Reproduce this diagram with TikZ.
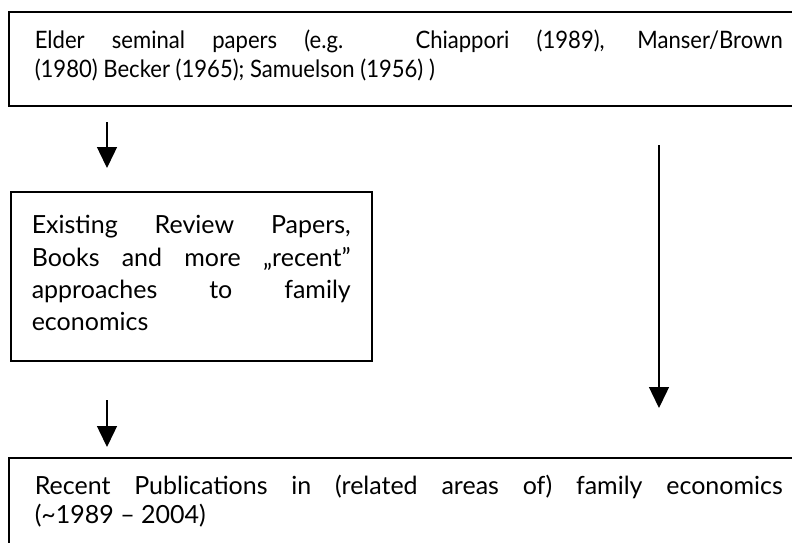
\documentclass[tikz,border=0pt]{standalone}
\usepackage{fontspec}
\setmainfont{Lato}
\newfontfamily\narrowlato[FakeStretch=0.92]{Lato}
\usetikzlibrary{arrows.meta}
\begin{document}
\begin{tikzpicture}[x=1pt,y=-1pt,
  box/.style={draw,line width=1.5pt,rectangle,anchor=north west,align=justify,
    inner ysep=0pt},
  arr/.style={line width=1.4pt,-{Triangle[width=20pt,length=21pt]}}]
\useasboundingbox (0,0) rectangle (792,542);
\clip (0,0) rectangle (792,542);
\node[box,text width=748pt,inner xsep=26pt,text height=37pt,text depth=57pt,
  font=\narrowlato\fontsize{24}{29}\selectfont] (seminal) at (8,11)
 {Elder seminal papers (e.g. Chiappori (1989), Manser/Brown\linebreak (1980) Becker (1965); Samuelson (1956) )};
\node[box,text width=319pt,inner xsep=21pt,text height=42pt,text depth=127pt,
  font=\fontsize{25}{32.3}\selectfont] (review) at (10,191)
 {Existing Review Papers,\linebreak Books and more ,,recent''\linebreak approaches to family\linebreak economics};
\node[box,text width=748pt,inner xsep=26pt,text height=37pt,text depth=66pt,
  font=\fontsize{25}{29}\selectfont] (recent) at (8,457)
 {Recent Publications in (related areas of) family economics\linebreak (\textasciitilde1989 -- 2004)};
\coordinate (a1s) at (107,122);
\coordinate (a1e) at (107,168);
\coordinate (a2s) at (107,400);
\coordinate (a2e) at (107,447);
\coordinate (a3s) at (659,145);
\coordinate (a3e) at (659,408);
\draw[arr] (a1s) -- (a1e);
\draw[arr] (a2s) -- (a2e);
\draw[arr] (a3s) -- (a3e);
\end{tikzpicture}
\end{document}
